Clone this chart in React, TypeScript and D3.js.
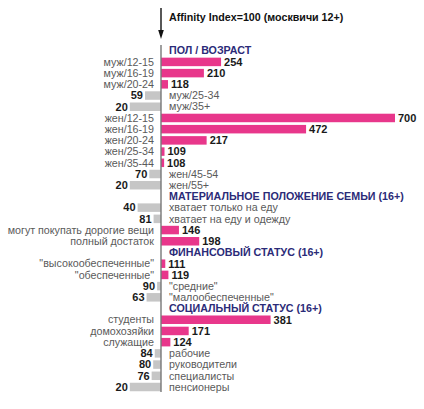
import { useMemo } from "react";
import * as d3 from "d3";

const sectionTitles = [
  "ПОЛ / ВОЗРАСТ",
  "МАТЕРИАЛЬНОЕ ПОЛОЖЕНИЕ СЕМЬИ (16+)",
  "ФИНАНСОВЫЙ СТАТУС (16+)",
  "СОЦИАЛЬНЫЙ СТАТУС (16+)",
];

const sexAgeLabels = [
  "муж/12-15", "муж/16-19", "муж/20-24", "муж/25-34", "муж/35+",
  "жен/12-15", "жен/16-19", "жен/20-24", "жен/25-34", "жен/35-44", "жен/45-54", "жен/55+",
];
const sexAgeValues = [254, 210, 118, 59, 20, 700, 472, 217, 109, 108, 70, 20];

const wealthLabels = [
  "хватает только на еду",
  "хватает на еду и одежду",
  "могут покупать дорогие вещи",
  "полный достаток",
];
const wealthValues = [40, 81, 146, 198];

const financeLabels = [
  "\"высокообеспеченные\"",
  "\"обеспеченные\"",
  "\"средние\"",
  "\"малообеспеченные\"",
];
const financeValues = [111, 119, 90, 63];

const socialLabels = [
  "студенты", "домохозяйки", "служащие", "рабочие", "руководители", "специалисты", "пенсионеры",
];
const socialValues = [381, 171, 124, 84, 80, 76, 20];

const BASE = 100;
const PINK = "#e8378b";
const GRAY = "#c6c6c6";

type Row =
  | { kind: "title"; text: string }
  | { kind: "bar"; label: string; value: number };

function buildRows(): Row[] {
  const groups: Array<[string[], number[]]> = [
    [sexAgeLabels, sexAgeValues],
    [wealthLabels, wealthValues],
    [financeLabels, financeValues],
    [socialLabels, socialValues],
  ];
  const rows: Row[] = [];
  groups.forEach(([labels, values], g) => {
    rows.push({ kind: "title", text: sectionTitles[g] });
    labels.forEach((label, i) => rows.push({ kind: "bar", label, value: values[i] }));
  });
  return rows;
}

export default function App() {
  const width = 424;
  const height = 409;
  const rows = useMemo(buildRows, []);

  const x = d3.scaleLinear().domain([BASE, 700]).range([161, 395]);
  const y = d3
    .scalePoint<number>()
    .domain(d3.range(rows.length))
    .range([50.7, 387]);
  const barH = 8.5;
  const x0 = x(BASE);
  const fs = 10.7;

  return (
    <svg
      width={width}
      height={height}
      style={{ position: "absolute", left: 0, top: 0, background: "#fff" }}
      fontFamily="'Liberation Sans', Arial, sans-serif"
    >
      {/* reference arrow */}
      <line x1={x0} x2={x0} y1={8} y2={32} stroke="#111" strokeWidth={1.4} />
      <path d={`M${x0 - 2.8},30 L${x0 + 2.8},30 L${x0},39 Z`} fill="#111" />
      <text x={169} y={17} dy="0.35em" fontSize={fs} fontWeight="bold" fill="#111">
        Affinity Index=100 (москвичи 12+)
      </text>

      {rows.map((r, i) => {
        const cy = y(i) ?? 0;
        if (r.kind === "title") {
          return (
            <text key={i} x={169} y={cy} dy="0.35em" fontSize={fs} fontWeight="bold" fill="#2b2b78">
              {r.text}
            </text>
          );
        }
        const above = r.value >= BASE;
        const xa = x(Math.min(r.value, BASE));
        const xb = x(Math.max(r.value, BASE));
        return (
          <g key={i}>
            <rect x={xa} y={cy - barH / 2} width={xb - xa} height={barH} fill={above ? PINK : GRAY} />
            {above ? (
              <>
                <text x={154} y={cy} dy="0.35em" fontSize={fs} textAnchor="end" fill="#5a5a5a">
                  {r.label}
                </text>
                <text x={xb + 3} y={cy} dy="0.35em" fontSize={11} fontWeight="bold" fill="#1a1a1a">
                  {r.value}
                </text>
              </>
            ) : (
              <>
                <text x={xa - 2} y={cy} dy="0.35em" fontSize={11} fontWeight="bold" textAnchor="end" fill="#1a1a1a">
                  {r.value}
                </text>
                <text x={169} y={cy} dy="0.35em" fontSize={fs} fill="#5a5a5a">
                  {r.label}
                </text>
              </>
            )}
          </g>
        );
      })}

      {/* baseline at index 100 */}
      <line x1={x0} x2={x0} y1={45} y2={392} stroke="#777" strokeWidth={1.4} />
    </svg>
  );
}
